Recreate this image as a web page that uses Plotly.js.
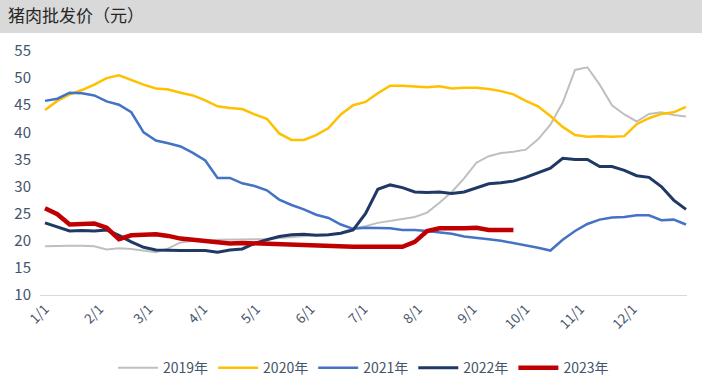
<!DOCTYPE html>
<html>
<head>
<meta charset="utf-8">
<script src="https://cdn.plot.ly/plotly-3.0.1.min.js"></script>
<style>
html,body{margin:0;padding:0;background:#fff;}
#chart{width:702px;height:379px;}
</style>
</head>
<body>
<div id="chart"></div>
<script>
const dates = ["2021-01-01","2021-01-08","2021-01-15","2021-01-22","2021-01-29","2021-02-05","2021-02-12","2021-02-19","2021-02-26","2021-03-05","2021-03-12","2021-03-19","2021-03-26","2021-04-02","2021-04-09","2021-04-16","2021-04-23","2021-04-30","2021-05-07","2021-05-14","2021-05-21","2021-05-28","2021-06-04","2021-06-11","2021-06-18","2021-06-25","2021-07-02","2021-07-09","2021-07-16","2021-07-23","2021-07-30","2021-08-06","2021-08-13","2021-08-20","2021-08-27","2021-09-03","2021-09-10","2021-09-17","2021-09-24","2021-10-01","2021-10-08","2021-10-15","2021-10-22","2021-10-29","2021-11-05","2021-11-12","2021-11-19","2021-11-26","2021-12-03","2021-12-10","2021-12-17","2021-12-24","2021-12-31"];

const seriesNames = ["2019年","2020年","2021年","2022年","2023年"];

const y2019 = [19.0,19.1,19.1,19.1,19.0,18.4,18.6,18.5,18.2,17.9,18.6,19.7,20.0,19.9,20.2,20.2,20.3,20.2,20.3,20.5,20.7,20.8,21.0,21.0,21.5,22.3,22.7,23.3,23.6,24.0,24.4,25.2,27.0,29.0,31.5,34.4,35.6,36.2,36.4,36.8,38.7,41.4,45.5,51.5,52.0,48.8,45.0,43.3,42.0,43.4,43.7,43.2,42.9];
const y2020 = [44.1,45.8,47.0,47.8,48.8,50.0,50.5,49.6,48.8,48.1,47.9,47.3,46.8,45.9,44.8,44.5,44.3,43.3,42.5,39.8,38.6,38.6,39.5,40.8,43.3,45.0,45.6,47.2,48.6,48.6,48.5,48.3,48.5,48.1,48.2,48.2,48.0,47.6,47.0,45.8,44.8,43.0,41.0,39.5,39.2,39.3,39.2,39.3,41.5,42.6,43.4,43.7,44.7];
const y2021 = [45.8,46.2,47.3,47.2,46.8,45.7,45.1,43.7,40.0,38.5,38.0,37.4,36.2,34.8,31.6,31.6,30.6,30.1,29.3,27.6,26.6,25.8,24.8,24.2,23.0,22.2,22.4,22.3,22.3,22.0,22.0,21.8,21.5,21.3,20.8,20.6,20.3,20.0,19.6,19.2,18.7,18.2,20.2,21.8,23.1,23.9,24.3,24.4,24.7,24.7,23.8,23.9,23.0];
const y2022 = [23.3,22.6,21.8,21.9,21.8,22.0,21.0,19.8,18.8,18.3,18.2,18.2,18.2,18.2,17.9,18.3,18.5,19.5,20.2,20.8,21.1,21.2,21.0,21.1,21.4,22.0,25.0,29.5,30.3,29.8,29.0,28.9,29.0,28.7,29.0,29.8,30.5,30.7,31.0,31.7,32.6,33.4,35.2,35.0,35.0,33.7,33.7,33.0,32.0,31.7,30.0,27.5,25.8];
const y2023 = [26.0,24.9,23.0,23.2,23.2,22.4,20.3,21.0,21.1,21.2,20.9,20.4,20.2,20.0,19.8,19.5,19.6,19.5,19.4,19.4,19.3,19.2,19.2,19.1,19.0,18.9,18.9,18.9,18.8,18.9,19.8,21.8,22.3,22.2,22.3,22.4,22.0,22.0,22.0];

const colors = ["#BFBFBF","#FFC000","#4472C4","#1F3864","#C00000"];
const widths = [2,2.5,2.5,3,4.5];
const allY = [y2019,y2020,y2021,y2022,y2023];

const traces = allY.map((ys,i)=>({
  type:"scatter", mode:"lines",
  x: dates.slice(0, ys.length), y: ys,
  name: seriesNames[i],
  line:{color:colors[i], width:widths[i]},
  hoverinfo:"skip"
}));

const txt = "#44546A";
const layout = {
  width:702, height:379,
  margin:{l:40, r:15, t:51, b:84, autoexpand:false},
  paper_bgcolor:"#ffffff", plot_bgcolor:"#ffffff",
  font:{family:"'Noto Sans CJK SC', 'Noto Sans', sans-serif", color:txt},
  title:{text:"猪肉批发价（元）", x:8/702, xref:"container", xanchor:"left",
         y:1-16.5/379, yref:"container", yanchor:"middle",
         font:{size:17, color:"#262626", family:"'Noto Sans CJK SC', sans-serif"}},
  shapes:[{type:"rect", xref:"paper", yref:"paper", x0:-0.2, x1:1.2,
           y0:(295-33)/244, y1:1.3, fillcolor:"#D9D9D9", line:{width:0}, layer:"below"}],
  xaxis:{type:"date", range:["2020-12-29 04:00","2021-12-31 14:00"], automargin:false,
         dtick:"M1", tick0:"2021-01-01", tickformat:"%-m/%-d", tickangle:-45,
         showgrid:false, zeroline:false, showline:true, linecolor:"#D9D9D9", linewidth:1,
         ticks:"", tickfont:{size:13.5, color:txt}, fixedrange:true},
  yaxis:{range:[10,55], dtick:5, tick0:10, showgrid:false, zeroline:false, showline:false, automargin:false,
         ticks:"", ticklabelstandoff:8, tickfont:{size:15, color:txt}, fixedrange:true},
  legend:{orientation:"h", x:0.5, xanchor:"center", y:-0.30, yanchor:"middle",
          font:{size:14, color:txt}, itemwidth:40, tracegroupgap:0},
  showlegend:true
};

Plotly.newPlot("chart", traces, layout, {displayModeBar:false, staticPlot:true});
</script>
</body>
</html>
